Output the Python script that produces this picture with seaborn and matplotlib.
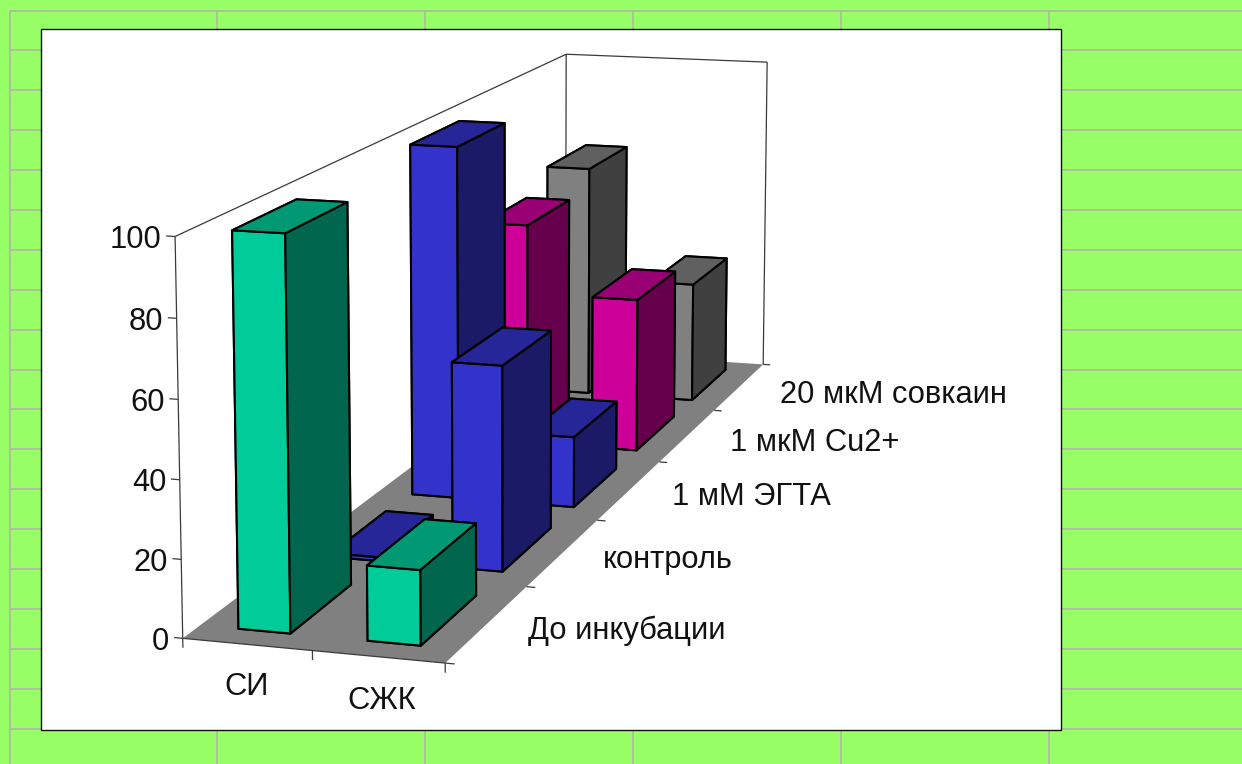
import numpy as np
import pandas as pd
import matplotlib
matplotlib.use("Agg")
import matplotlib.pyplot as plt
from matplotlib.patches import Rectangle
from mpl_toolkits.mplot3d.art3d import Poly3DCollection, Line3DCollection
import seaborn as sns

# Chart data
categories = ["СИ", "СЖК"]
series = ["До инкубации", "контроль", "1 мМ ЭГТА", "1 мкМ Cu2+", "20 мкМ совкаин"]
values_si = [100, 1, 100, 66, 72]
values_szhk = [19, 55, 20, 45.5, 37]
value_ticks = [0, 20, 40, 60, 80, 100]
front_colors = ["#00CC99", "#3333CC", "#3333CC", "#CC0099", "#808080"]

table = pd.DataFrame({"СИ": values_si, "СЖК": values_szhk}, index=series)

sns.set_theme(style="white")
plt.rcParams["font.family"] = ["Liberation Sans", "DejaVu Sans"]
palette = sns.color_palette(front_colors)

W, H = 1242, 764
SHEET = "#99FF66"
GRIDLINE = "#B2B6A8"
INK = "#111111"
LABEL_SIZE = 22.2

fig = plt.figure(figsize=(W / 100, H / 100), dpi=100, facecolor=SHEET)

# Spreadsheet backdrop and white chart area, in pixel units
back = fig.add_axes([0, 0, 1, 1], zorder=0)
back.set_xlim(0, W)
back.set_ylim(H, 0)
back.axis("off")
back.hlines([11] + list(np.linspace(50, 729, 18)), 10, W, color=GRIDLINE, lw=1.2)
back.vlines([10, 217, 425, 633, 841, 1049], 11, H, color=GRIDLINE, lw=1.2)
back.add_patch(Rectangle((41, 29), 1020, 701, fc="white", ec=INK, lw=1.0, zorder=3))

# Oblique camera for the box: world corners (category, series, value) and where they land
world = np.array([
    [0, 0, 0], [1, 0, 0], [2, 0, 0], [2, 2, 0], [2, 3, 0], [2, 4, 0], [2, 5, 0], [0, 5, 0],
    [0, 0, 100], [0, 5, 100], [2, 5, 100],
], float)
screen = np.array([
    [182.5, 638], [313, 650.7], [444.3, 663], [597, 520], [660, 462], [716, 410], [762, 365], [565, 351.5],
    [175, 237], [566.7, 54], [766.7, 62],
], float)


def solve_camera(xyz, uv):
    rows, rhs = [], []
    for (x, y, z), (u, v) in zip(xyz, uv):
        rows.append([x, y, z, 1, 0, 0, 0, 0, -u * x, -u * y, -u * z])
        rhs.append(u)
        rows.append([0, 0, 0, 0, x, y, z, 1, -v * x, -v * y, -v * z])
        rhs.append(v)
    p = np.linalg.lstsq(np.array(rows), np.array(rhs), rcond=None)[0]
    return np.append(p, 1.0).reshape(3, 4)


def to_pixels(camera, x, y, z):
    u, v, w = camera @ np.array([x, y, z, 1.0])
    return u / w, v / w


ax = fig.add_axes([0, 0, 1, 1], projection="3d", computed_zorder=False, zorder=1)
ax.set_axis_off()
ax.patch.set_alpha(0)
ax.apply_aspect = lambda position=None: None

pixel_cam = solve_camera(world, screen)
x0, x1 = ax.viewLim.intervalx
y0, y1 = ax.viewLim.intervaly
to_view = np.array([
    [(x1 - x0) / W, 0, x0],
    [0, (y0 - y1) / H, y1],
    [0, 0, 1.0],
])
cam = to_view @ pixel_cam
depth = np.array([-0.5, 0.2, -0.01, 1.0])
proj = np.vstack([cam[0], cam[1], depth, cam[2]])
ax.get_proj = lambda: proj
ax.M = proj

AXIS_COLOR = "#3A3A3A"
n_cat, n_ser = len(categories), len(series)
top = value_ticks[-1]

# Floor
ax.add_collection3d(Poly3DCollection(
    [[(0, 0, 0), (n_cat, 0, 0), (n_cat, n_ser, 0), (0, n_ser, 0)]],
    facecolor="#808080", edgecolor="none", zorder=1))

# Wall outlines and the vertical axis
walls = [
    [(0, 0, 0), (0, 0, top)],
    [(0, 0, top), (0, n_ser, top)],
    [(0, n_ser, top), (n_cat, n_ser, top)],
    [(0, n_ser, 0), (0, n_ser, top)],
    [(n_cat, n_ser, 0), (n_cat, n_ser, top)],
]
ax.add_collection3d(Line3DCollection(walls, colors=AXIS_COLOR, linewidths=0.9, zorder=0.5))

# Front floor edge and tick marks on all three axes
ticks = [[(0, 0, 0), (n_cat, 0, 0)]]
ticks += [[(-0.068, 0, v), (0, 0, v)] for v in value_ticks]
ticks += [[(c, 0, 0), (c, 0, -2.4)] for c in range(n_cat + 1)]
ticks += [[(n_cat, s, 0), (n_cat + 0.07, s, 0)] for s in range(n_ser + 1)]
ax.add_collection3d(Line3DCollection(ticks, colors=AXIS_COLOR, linewidths=0.9, zorder=1.5))

# Bars, painted from the back row forward
BAR_X, BAR_W = 0.30, 0.405
BAR_Y, BAR_D = 0.17, 0.66
order = 10
for s in reversed(range(n_ser)):
    front = np.array(palette[s])
    faces = [tuple(front * 0.5), tuple(front * 0.75), tuple(front),
             tuple(front * 0.5), tuple(front * 0.5), tuple(front * 0.5)]
    for c, cat in enumerate(categories):
        ax.bar3d(c + BAR_X, s + BAR_Y, 0, BAR_W, BAR_D, table.loc[series[s], cat],
                 color=faces, shade=False, edgecolor="black", linewidth=1.5, zorder=order)
        order += 1

# Value labels follow the vertical axis through the same camera
for v in value_ticks:
    px, py = to_pixels(pixel_cam, -0.105, 0, v)
    back.text(px, py + 4.5, str(v), ha="right", va="center", fontsize=LABEL_SIZE, color=INK, zorder=5)

# Category and series labels, in pixel units
for label, px, py in zip(categories, [246.5, 381.5], [687, 701]):
    back.text(px, py, label, ha="center", va="center", fontsize=LABEL_SIZE, color=INK, zorder=5)
for label, px, py in zip(series, [528, 603, 672, 730, 780], [631, 560, 497, 443, 395]):
    back.text(px, py, label, ha="left", va="center", fontsize=LABEL_SIZE, color=INK, zorder=5)

fig.savefig("out.png", dpi=100, facecolor=SHEET)
